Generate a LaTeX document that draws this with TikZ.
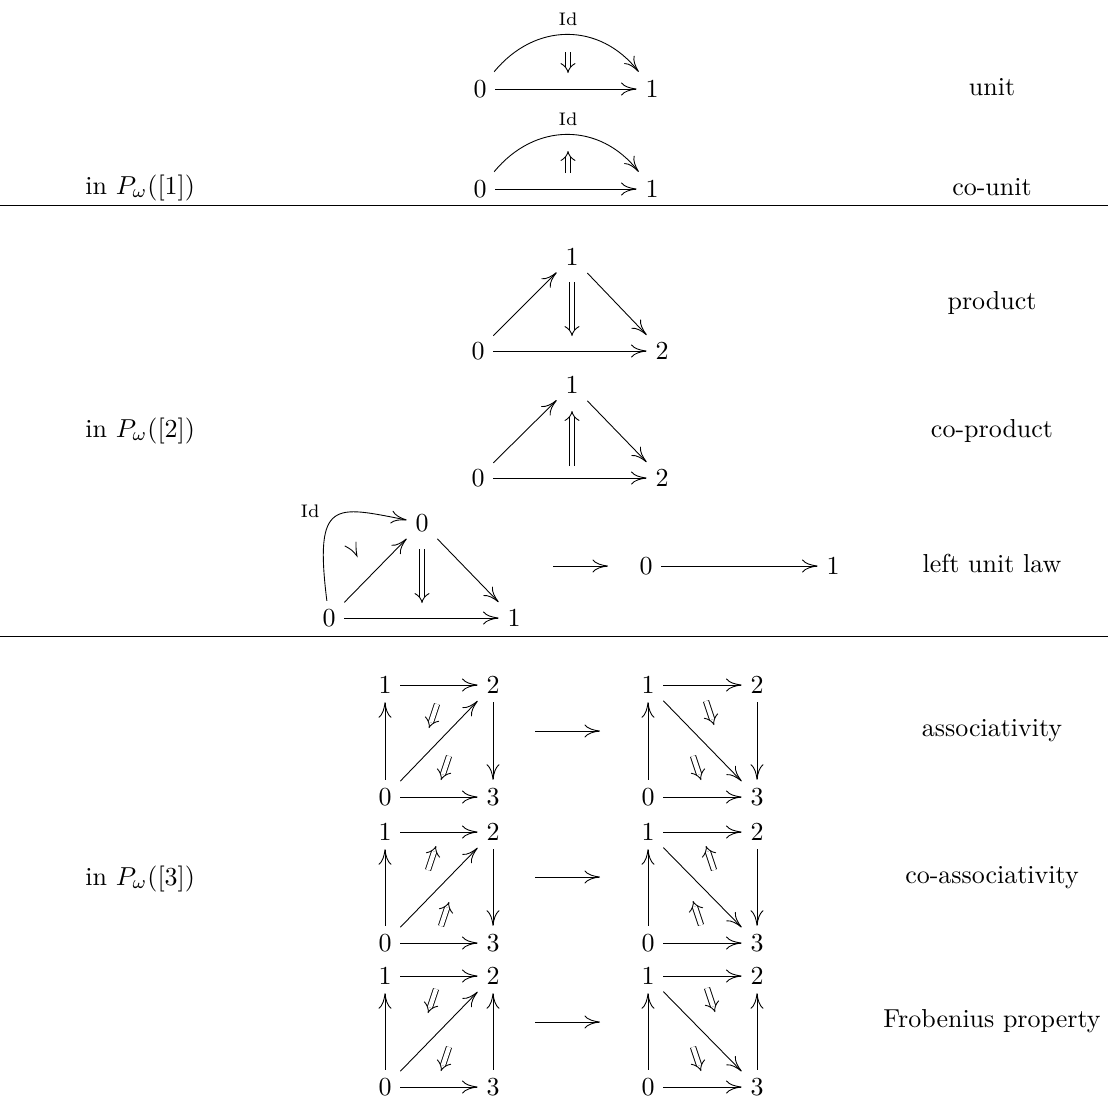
\documentclass[tikz,border=0pt]{standalone}
\usetikzlibrary{arrows.meta}
\begin{document}
\begin{tikzpicture}[x=0.385pt,y=-0.385pt,line width=0.34pt,
  obj/.style={inner sep=3.4pt,outer sep=0pt},
  ar/.style={-{Computer Modern Rightarrow[length=6pt,width=5pt]}},
  dbl/.style={double,double distance=1.7pt,-{Implies}},
  idl/.style={font=\scriptsize,inner sep=0pt},
  txt/.style={anchor=base,inner sep=0pt},
  lft/.style={anchor=base west,inner sep=0pt}]
\useasboundingbox (0,0) rectangle (1108,1099);

% ---------------- unit / co-unit ----------------
\node[obj] (u0) at (480,89) {$0$};
\node[obj] (u1) at (652,89) {$1$};
\draw[ar] (u0) -- (u1);
\draw[ar] (u0) .. controls (535,22) and (600,22) .. (u1);
\node[idl] (uid) at (568,19) {Id};
\coordinate (uA) at (568,52); \coordinate (uB) at (568,73);
\draw[dbl] (uA) -- (uB);
\node[txt] (tunit) at (992,95) {unit};

\node[obj] (c0) at (480,189) {$0$};
\node[obj] (c1) at (652,189) {$1$};
\draw[ar] (c0) -- (c1);
\draw[ar] (c0) .. controls (535,122) and (600,122) .. (c1);
\node[idl] (cid) at (568,119) {Id};
\coordinate (cA) at (568,173); \coordinate (cB) at (568,151);
\draw[dbl] (cA) -- (cB);
\node[txt] (tcounit) at (992,195) {co-unit};
\node[lft] (in1) at (85,194) {in $P_\omega([1])$};

\coordinate (r1a) at (0,205); \coordinate (r1b) at (1108,205);
\draw (r1a) -- (r1b);

% ---------------- product / co-product ----------------
\node[obj] (p1) at (572,257) {$1$};
\node[obj] (p0) at (478,351) {$0$};
\node[obj] (p2) at (662,351) {$2$};
\draw[ar] (p0) -- (p1);
\draw[ar] (p1) -- (p2);
\draw[ar] (p0) -- (p2);
\coordinate (pA) at (572,282); \coordinate (pB) at (572,336);
\draw[dbl] (pA) -- (pB);
\node[txt] (tprod) at (992,309) {product};

\node[obj] (q1) at (572,385) {$1$};
\node[obj] (q0) at (478,478) {$0$};
\node[obj] (q2) at (662,478) {$2$};
\draw[ar] (q0) -- (q1);
\draw[ar] (q1) -- (q2);
\draw[ar] (q0) -- (q2);
\coordinate (qA) at (572,466); \coordinate (qB) at (572,411);
\draw[dbl] (qA) -- (qB);
\node[txt] (tcoprod) at (992,437) {co-product};
\node[lft] (in2) at (85,437) {in $P_\omega([2])$};

% ---------------- left unit law ----------------
\node[obj] (lt) at (422,523) {$0$};
\node[obj] (l0) at (329,618) {$0$};
\node[obj] (l1) at (514,618) {$1$};
\draw[ar] (l0) -- (lt);
\draw[ar] (lt) -- (l1);
\draw[ar] (l0) -- (l1);
\draw[ar] (l0) .. controls (314,498) and (335,506) .. (lt);
\node[idl] (lid) at (310,511) {Id};
\coordinate (lA) at (422,549); \coordinate (lB) at (422,603);
\draw[dbl] (lA) -- (lB);
\coordinate (tk1) at (345,546); \coordinate (tk0) at (357,556); \coordinate (tk2) at (356,542);
\draw[line cap=round] (tk1) .. controls (352,550) .. (tk0) .. controls (356,550) .. (tk2);
\coordinate (lm0) at (553,566); \coordinate (lm1) at (608,566);
\draw[ar] (lm0) -- (lm1);
\node[obj] (r0) at (646,566) {$0$};
\node[obj] (r1) at (833,566) {$1$};
\draw[ar] (r0) -- (r1);
\node[txt] (tlul) at (992,572) {left unit law};

\coordinate (r2a) at (0,636); \coordinate (r2b) at (1108,636);
\draw (r2a) -- (r2b);

% ---------------- associativity ----------------
\node[obj] (a1) at (385,685) {$1$};
\node[obj] (a2) at (493,685) {$2$};
\node[obj] (a0) at (385,797) {$0$};
\node[obj] (a3) at (493,797) {$3$};
\draw[ar] (a0) -- (a1);
\draw[ar] (a1) -- (a2);
\draw[ar] (a2) -- (a3);
\draw[ar] (a0) -- (a3);
\draw[ar] (a0) -- (a2);
\coordinate (aA) at (437,704); \coordinate (aB) at (429,728);
\draw[dbl] (aA) -- (aB);
\coordinate (aC) at (449,756); \coordinate (aD) at (441,780);
\draw[dbl] (aC) -- (aD);

\coordinate (am0) at (535,731); \coordinate (am1) at (600,731);
\draw[ar] (am0) -- (am1);

\node[obj] (b1) at (648,685) {$1$};
\node[obj] (b2) at (757,685) {$2$};
\node[obj] (b0) at (648,797) {$0$};
\node[obj] (b3) at (757,797) {$3$};
\draw[ar] (b0) -- (b1);
\draw[ar] (b1) -- (b2);
\draw[ar] (b2) -- (b3);
\draw[ar] (b0) -- (b3);
\draw[ar] (b1) -- (b3);
\coordinate (bA) at (706,701); \coordinate (bB) at (714,725);
\draw[dbl] (bA) -- (bB);
\coordinate (bC) at (693,756); \coordinate (bD) at (701,780);
\draw[dbl] (bC) -- (bD);
\node[txt] (tassoc) at (992,736) {associativity};

% ---------------- co-associativity ----------------
\node[obj] (e1) at (385,832) {$1$};
\node[obj] (e2) at (493,832) {$2$};
\node[obj] (e0) at (385,943) {$0$};
\node[obj] (e3) at (493,943) {$3$};
\draw[ar] (e0) -- (e1);
\draw[ar] (e1) -- (e2);
\draw[ar] (e2) -- (e3);
\draw[ar] (e0) -- (e3);
\draw[ar] (e0) -- (e2);
\coordinate (eA) at (428,870); \coordinate (eB) at (436,846);
\draw[dbl] (eA) -- (eB);
\coordinate (eC) at (441,926); \coordinate (eD) at (449,902);
\draw[dbl] (eC) -- (eD);

\coordinate (em0) at (535,877); \coordinate (em1) at (600,877);
\draw[ar] (em0) -- (em1);

\node[obj] (f1) at (648,832) {$1$};
\node[obj] (f2) at (757,832) {$2$};
\node[obj] (f0) at (648,943) {$0$};
\node[obj] (f3) at (757,943) {$3$};
\draw[ar] (f0) -- (f1);
\draw[ar] (f1) -- (f2);
\draw[ar] (f2) -- (f3);
\draw[ar] (f0) -- (f3);
\draw[ar] (f1) -- (f3);
\coordinate (fA) at (714,870); \coordinate (fB) at (706,846);
\draw[dbl] (fA) -- (fB);
\coordinate (fC) at (701,925); \coordinate (fD) at (693,901);
\draw[dbl] (fC) -- (fD);
\node[txt] (tcoassoc) at (992,883) {co-associativity};
\node[lft] (in3) at (85,885) {in $P_\omega([3])$};

% ---------------- Frobenius ----------------
\node[obj] (g1) at (385,976) {$1$};
\node[obj] (g2) at (493,976) {$2$};
\node[obj] (g0) at (385,1087) {$0$};
\node[obj] (g3) at (493,1087) {$3$};
\draw[ar] (g0) -- (g1);
\draw[ar] (g1) -- (g2);
\draw[ar] (g3) -- (g2);
\draw[ar] (g0) -- (g3);
\draw[ar] (g0) -- (g2);
\coordinate (gA) at (436,989); \coordinate (gB) at (428,1013);
\draw[dbl] (gA) -- (gB);
\coordinate (gC) at (449,1047); \coordinate (gD) at (441,1071);
\draw[dbl] (gC) -- (gD);

\coordinate (gm0) at (535,1022); \coordinate (gm1) at (600,1022);
\draw[ar] (gm0) -- (gm1);

\node[obj] (h1) at (648,976) {$1$};
\node[obj] (h2) at (757,976) {$2$};
\node[obj] (h0) at (648,1087) {$0$};
\node[obj] (h3) at (757,1087) {$3$};
\draw[ar] (h0) -- (h1);
\draw[ar] (h1) -- (h2);
\draw[ar] (h3) -- (h2);
\draw[ar] (h0) -- (h3);
\draw[ar] (h1) -- (h3);
\coordinate (hA) at (707,988); \coordinate (hB) at (715,1012);
\draw[dbl] (hA) -- (hB);
\coordinate (hC) at (693,1047); \coordinate (hD) at (701,1071);
\draw[dbl] (hC) -- (hD);
\node[txt] (tfrob) at (992,1027) {Frobenius property};
\end{tikzpicture}
\end{document}
